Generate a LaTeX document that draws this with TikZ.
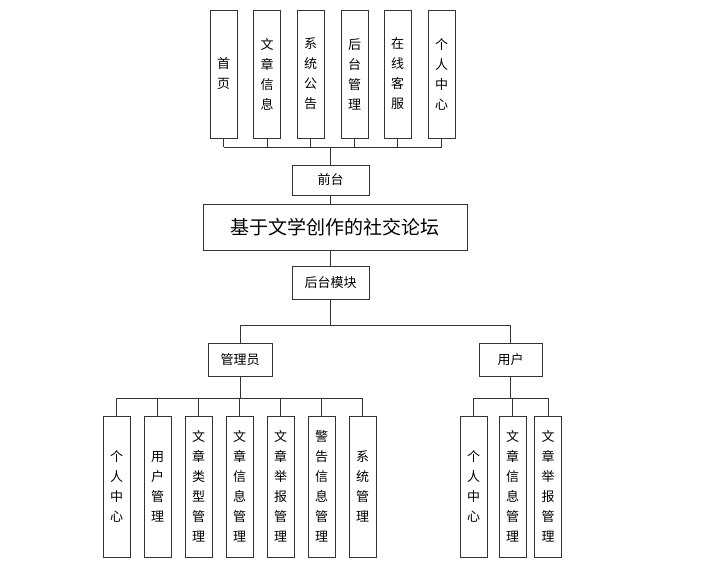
\documentclass[tikz,border=0pt]{standalone}
\usepackage{fontspec}
\setmainfont{Noto Sans CJK SC}
\tikzset{
    box/.style = {
        draw=black!80,
        thick,
        inner sep=0pt,
        font=\fontsize{13}{14}\selectfont,
        },
    vbox/.style = {
        box,
        minimum width=27pt,
        minimum height=128pt,
        align=center,
        font=\fontsize{13}{20}\selectfont,
        },
    lvbox/.style = {
        vbox,
        minimum height=141pt,
        },
    wire/.style = {
        draw=black!80,
        thick,
        },
}
\begin{document}
\begin{tikzpicture}[x=1pt,y=-1pt]
    \useasboundingbox (0,0) rectangle (720,567);
    % front end modules
    \node[vbox] (t1) at (223.5,74) {首\\页};
    \node[vbox] (t2) at (267,74) {文\\章\\信\\息};
    \node[vbox] (t3) at (310.5,74) {系\\统\\公\\告};
    \node[vbox] (t4) at (354.5,74) {后\\台\\管\\理};
    \node[vbox] (t5) at (397.5,74) {在\\线\\客\\服};
    \node[vbox] (t6) at (441.5,74) {个\\人\\中\\心};
    \node[box, minimum width=77pt, minimum height=30pt] (front) at (330.5,180) {前台};
    \node[box, minimum width=264pt, minimum height=46pt, font=\fontsize{19}{20}\selectfont] (main) at (335,227) {基于文学创作的社交论坛};
    \node[box, minimum width=77pt, minimum height=33pt] (back) at (330.5,282.5) {后台模块};
    \node[box, minimum width=64pt, minimum height=33pt] (admin) at (240,359.5) {管理员};
    \node[box, minimum width=63pt, minimum height=33pt] (user) at (510.5,359.5) {用户};
    % admin modules
    \node[lvbox] (a1) at (116.5,486.5) {个\\人\\中\\心};
    \node[lvbox] (a2) at (157.5,486.5) {用\\户\\管\\理};
    \node[lvbox] (a3) at (198.5,486.5) {文\\章\\类\\型\\管\\理};
    \node[lvbox] (a4) at (239.5,486.5) {文\\章\\信\\息\\管\\理};
    \node[lvbox] (a5) at (280.5,486.5) {文\\章\\举\\报\\管\\理};
    \node[lvbox] (a6) at (321.5,486.5) {警\\告\\信\\息\\管\\理};
    \node[lvbox] (a7) at (362.5,486.5) {系\\统\\管\\理};
    % user modules
    \node[lvbox] (u1) at (473.5,486.5) {个\\人\\中\\心};
    \node[lvbox] (u2) at (512.5,486.5) {文\\章\\信\\息\\管\\理};
    \node[lvbox] (u3) at (548,486.5) {文\\章\\举\\报\\管\\理};

    \coordinate (bus) at (330.5,147);
    \foreach \n in {t1,t2,t3,t4,t5,t6}
        \draw[wire] (\n.south) -- (\n.south |- bus);
    \draw[wire] (t1.south |- bus) -- (t6.south |- bus);
    \draw[wire, line width=1.4pt] (bus) -- (front.north);
    \draw[wire] (front.south) -- (front.south |- main.north);
    \draw[wire] (back.north |- main.south) -- (back.north);
    \draw[wire] (back.south) -- ++(0,26) -| (admin.north);
    \draw[wire] (back.south) -- ++(0,26) -| (user.north);
    \foreach \n in {a1,a2,a3,a4,a5,a6,a7}
        \draw[wire] (admin.south) -- ++(0,22) -| (\n.north);
    \foreach \n in {u1,u2,u3}
        \draw[wire] (user.south) -- ++(0,22) -| (\n.north);
\end{tikzpicture}
\end{document}
